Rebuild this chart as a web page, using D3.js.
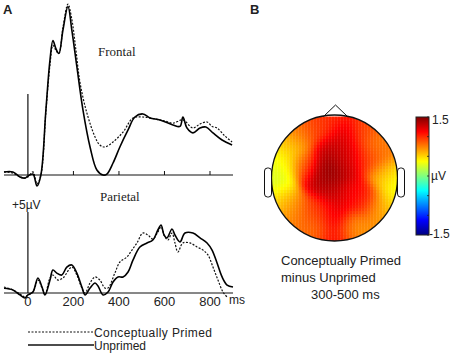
<!DOCTYPE html>
<html>
<head>
<meta charset="utf-8">
<script src="https://cdn.jsdelivr.net/npm/d3@7"></script>
<style>
  body { margin: 0; background: #fff; }
  svg { display: block; }
</style>
</head>
<body>
<svg id="chart" width="454" height="356"></svg>
<script>
// ERP waveforms: [time ms, amplitude µV]
const frontalUnprimed = [[-105,0.19],[-66,0.19],[-35,-0.12],[-13,-0.19],[0,-0.06],[22,0.06],[40,-0.68],[57,0],[79,4.0],[97,7.1],[110,8.3],[123,7.8],[136,7.5],[154,8.95],[176,10.4],[193,8.95],[215,6.7],[242,4.0],[273,1.73],[303,0.31],[330,0],[347,0.06],[374,0.74],[404,1.73],[440,2.78],[470,3.58],[505,3.77],[536,3.52],[580,3.4],[637,3.09],[668,3.0],[681,3.58],[699,2.9],[725,2.6],[756,2.9],[782,2.96],[813,2.6],[853,2.16],[897,1.85]]
const frontalPrimed = [[-105,0.19],[-66,0.12],[-35,-0.12],[-13,-0.19],[0,-0.12],[22,0.19],[40,-0.55],[57,0],[79,3.9],[97,6.8],[110,8.0],[123,7.7],[136,7.5],[154,9.1],[176,10.55],[193,9.6],[211,7.7],[229,5.7],[259,3.83],[295,2.35],[316,1.85],[338,1.73],[374,2.04],[418,2.65],[462,3.52],[505,3.58],[558,3.46],[602,3.33],[637,3.2],[681,3.4],[725,2.9],[756,3.15],[787,3.27],[809,3.0],[831,2.9],[866,2.4],[897,2.04]]
const parietalUnprimed = [[-105,0.29],[-66,0.19],[-35,-0.12],[-13,-0.31],[0,-0.12],[22,0.06],[44,0.93],[62,0.37],[75,-0.12],[97,0.8],[110,1.42],[127,1.23],[149,1.11],[171,1.6],[193,1.73],[215,1.23],[237,0.37],[251,-0.12],[273,0.31],[295,0.62],[308,0.43],[330,-0.12],[352,0.06],[374,0.68],[396,0.99],[418,0.99],[440,1.3],[462,2.04],[492,2.84],[523,3.09],[549,3.27],[571,3.89],[585,4.2],[598,3.58],[611,3.4],[633,3.95],[646,3.58],[668,3.15],[690,3.7],[725,3.7],[756,3.4],[787,3.09],[809,2.65],[831,1.85],[853,0.99],[875,0.49],[901,0.37]]
const parietalPrimed = [[-105,0.37],[-66,0.19],[-35,-0.06],[-13,-0.25],[0,-0.12],[22,0.06],[44,0.8],[62,0.31],[75,-0.12],[97,0.93],[110,1.11],[132,0.8],[154,0.93],[193,1.6],[215,1.11],[237,0.31],[251,0],[273,0.62],[295,0.99],[316,0.8],[338,0.31],[352,0.31],[382,1.23],[404,1.91],[435,2.22],[457,2.65],[479,3.09],[505,3.7],[527,3.58],[549,3.33],[571,3.77],[585,4.07],[602,3.46],[615,3.27],[633,3.7],[646,3.09],[659,2.53],[681,3.09],[712,3.09],[743,2.84],[769,2.65],[791,2.35],[813,1.6],[835,0.8],[857,0.06],[875,-0.25]]

const timeTicks = [0, 200, 400, 600, 800]

// topography: sample positions (unit head coords, y up) and difference values (µV)
const siteX = [-0.10, -0.05, 0.16, -0.05, 0.0, 0.0, 0.27, 0.25, -0.26, -0.55, -0.45, -0.85, -0.95, -0.7, -0.65, -0.3, -0.3, 0.55, 0.8, 0.98, 0.72, 0.5, 0.7, 0.3, 0.0, 0.45, -0.85, 0.85, -0.2, 0.1]
const siteY = [0.10, 0.4, 0.7, -0.2, -0.6, -0.95, -0.24, 0.3, 0.8, 0.7, 0.2, 0.2, -0.05, 0.5, -0.5, -0.5, -0.8, 0.3, 0.05, -0.1, 0.5, -0.35, -0.55, -0.8, 0.95, 0.75, -0.35, -0.4, 0.0, 0.15]
const siteV = [1.6, 1.3, 1.25, 1.3, 1.2, 1.1, 1.15, 1.2, 0.95, 0.8, 0.85, 0.35, 0.25, 0.5, 0.75, 0.95, 0.8, 0.95, 0.6, 0.3, 0.75, 1.05, 0.7, 0.7, 1.0, 0.9, 0.5, 0.45, 1.3, 1.3]
const colorTicks = [1.5, 1.0, 0.5, 0, -0.5, -1.0, -1.5]

const svg = d3.select('#chart')
const textColor = '#222'

let x = d3.scaleLinear().domain([-105, 901]).range([4, 233])

function drawPanel(base, name, nameX, nameY, unprimed, primed, labels) {
    let y = d3.scaleLinear().domain([0, 5]).range([base, base - 81])
    let g = svg.append('g')

    let line = d3.line()
        .x(d => x(d[0]))
        .y(d => y(d[1]))
        .curve(d3.curveCatmullRom.alpha(0.5))

    // baseline and scale bar
    g.append('line')
        .attr('x1', x(-105)).attr('x2', x(901))
        .attr('y1', y(0)).attr('y2', y(0))
        .style('stroke', '#111').style('stroke-width', 1)
    g.append('line')
        .attr('x1', x(0)).attr('x2', x(0))
        .attr('y1', y(0)).attr('y2', y(5))
        .style('stroke', '#111').style('stroke-width', 1.2)

    if (!labels) {
        g.selectAll('.tick').data(timeTicks.slice(1)).join('line')
            .attr('x1', d => x(d)).attr('x2', d => x(d))
            .attr('y1', y(0)).attr('y2', y(0) - 4)
            .style('stroke', '#111').style('stroke-width', 1)
    } else {
        g.selectAll('.lab').data(timeTicks).join('text')
            .attr('x', d => x(d))
            .attr('y', y(0) + 13)
            .attr('text-anchor', 'middle')
            .style('font-family', 'Liberation Sans, Arial, sans-serif')
            .style('font-size', '13px')
            .style('fill', textColor)
            .text(d => d)
        g.append('text')
            .attr('x', 229).attr('y', y(0) + 11)
            .style('font-family', 'Liberation Sans, Arial, sans-serif')
            .style('font-size', '12px')
            .style('fill', textColor)
            .text('ms')
    }

    g.append('path').datum(primed)
        .attr('d', line)
        .style('fill', 'none').style('stroke', '#111')
        .style('stroke-width', 1.2)
        .style('stroke-dasharray', '2,1.5')
    g.append('path').datum(unprimed)
        .attr('d', line)
        .style('fill', 'none').style('stroke', '#000')
        .style('stroke-width', 1.6)

    g.append('text')
        .attr('x', nameX).attr('y', nameY)
        .style('font-family', 'Liberation Serif, Times New Roman, serif')
        .style('font-size', '13px')
        .style('fill', textColor)
        .text(name)
}

drawPanel(175, 'Frontal', 98, 56, frontalUnprimed, frontalPrimed, false)
drawPanel(293, 'Parietal', 100, 201, parietalUnprimed, parietalPrimed, true)

svg.append('text')
    .attr('x', 12).attr('y', 209)
    .style('font-family', 'Liberation Sans, Arial, sans-serif')
    .style('font-size', '12px')
    .style('fill', textColor)
    .text('+5µV')

// panel letters
svg.append('text').attr('x', 3).attr('y', 14).text('A')
    .style('font-family', 'Liberation Sans, Arial, sans-serif')
    .style('font-weight', 'bold').style('font-size', '13px').style('fill', textColor)
svg.append('text').attr('x', 250).attr('y', 14).text('B')
    .style('font-family', 'Liberation Sans, Arial, sans-serif')
    .style('font-weight', 'bold').style('font-size', '13px').style('fill', textColor)

// legend
let legend = svg.append('g')
    .style('font-family', 'Liberation Sans, Arial, sans-serif')
    .style('font-size', '12px')
    .style('fill', textColor)
legend.append('line').attr('x1', 28).attr('x2', 94).attr('y1', 332).attr('y2', 332)
    .style('stroke', '#111').style('stroke-width', 1.1).style('stroke-dasharray', '2,1.5')
legend.append('text').attr('x', 94).attr('y', 336.5).text('Conceptually Primed')
    .attr('textLength', 118)
legend.append('line').attr('x1', 28).attr('x2', 94).attr('y1', 345).attr('y2', 345)
    .style('stroke', '#111').style('stroke-width', 1.4)
legend.append('text').attr('x', 94).attr('y', 350).text('Unprimed')

// jet colour scale
let jet = d3.scaleLinear()
    .domain([-1.5, -1.125, -0.375, 0.375, 1.125, 1.5])
    .range(['#000080', '#0000ff', '#00ffff', '#ffff00', '#ff0000', '#800000'])
    .clamp(true)

// topographic map
let cx = 334.5, cy = 178, r = 63
let head = svg.append('g')
let defs = svg.append('defs')
defs.append('clipPath').attr('id', 'headclip')
    .append('circle').attr('cx', cx).attr('cy', cy).attr('r', r)

let cell = 3
let sigma2 = 2 * 0.16 * 0.16
let cells = []
for (let py = cy - r; py < cy + r; py += cell) {
    for (let px = cx - r; px < cx + r; px += cell) {
        let ux = (px + cell / 2 - cx) / r
        let uy = -(py + cell / 2 - cy) / r
        if (ux * ux + uy * uy > 1.1) continue
        let wsum = 0, vsum = 0
        for (let i = 0; i < siteV.length; i++) {
            let d2 = (ux - siteX[i]) ** 2 + (uy - siteY[i]) ** 2
            let w = Math.exp(-d2 / sigma2)
            wsum += w
            vsum += w * siteV[i]
        }
        cells.push({ px, py, v: vsum / wsum })
    }
}

head.append('g').attr('clip-path', 'url(#headclip)')
    .selectAll('rect').data(cells).join('rect')
    .attr('x', d => d.px).attr('y', d => d.py)
    .attr('width', cell + 0.3).attr('height', cell + 0.3)
    .style('fill', d => jet(d.v))

// nose and ears
head.append('path')
    .attr('d', `M${cx - 11},${cy - r + 1.5} L${cx + 1},${cy - r - 10} L${cx + 13},${cy - r + 1.5}`)
    .style('fill', '#fff').style('stroke', '#111').style('stroke-width', 1)
head.append('circle').attr('cx', cx).attr('cy', cy).attr('r', r)
    .style('fill', 'none').style('stroke', '#111').style('stroke-width', 1.3)
head.append('rect').attr('x', cx - r - 7).attr('y', cy - 10).attr('width', 7).attr('height', 29).attr('rx', 3)
    .style('fill', '#fff').style('stroke', '#111').style('stroke-width', 1)
head.append('rect').attr('x', cx + r).attr('y', cy - 10).attr('width', 7).attr('height', 29).attr('rx', 3)
    .style('fill', '#fff').style('stroke', '#111').style('stroke-width', 1)

// colour bar
let cbY = d3.scaleLinear().domain([1.5, -1.5]).range([117, 235])
let grad = defs.append('linearGradient').attr('id', 'jetgrad')
    .attr('x1', '0%').attr('y1', '0%').attr('x2', '0%').attr('y2', '100%')
jet.domain().slice().reverse().forEach(v => {
    grad.append('stop')
        .attr('offset', ((1.5 - v) / 3 * 100) + '%')
        .attr('stop-color', jet(v))
})
svg.append('rect').attr('x', 416).attr('y', cbY(1.5)).attr('width', 13).attr('height', cbY(-1.5) - cbY(1.5))
    .style('fill', 'url(#jetgrad)').style('stroke', '#222').style('stroke-width', 1)
svg.selectAll('.cbtick').data(colorTicks).join('line')
    .attr('x1', 427).attr('x2', 429)
    .attr('y1', d => cbY(d)).attr('y2', d => cbY(d))
    .style('stroke', '#222').style('stroke-width', 0.8)

let cbText = svg.append('g')
    .style('font-family', 'Liberation Sans, Arial, sans-serif')
    .style('font-size', '12px')
    .style('fill', textColor)
cbText.append('text').attr('x', 432).attr('y', cbY(1.5) + 7).text('1.5')
cbText.append('text').attr('x', 431).attr('y', cbY(0) + 4).text('µV')
cbText.append('text').attr('x', 429).attr('y', cbY(-1.5) + 3).text('-1.5')

let caption = svg.append('g')
    .style('font-family', 'Liberation Sans, Arial, sans-serif')
    .style('font-size', '13px')
    .style('fill', textColor)
caption.append('text').attr('x', 281).attr('y', 265).text('Conceptually Primed')
caption.append('text').attr('x', 281).attr('y', 282).text('minus Unprimed')
caption.append('text').attr('x', 311).attr('y', 299).text('300-500 ms')
</script>
</body>
</html>
